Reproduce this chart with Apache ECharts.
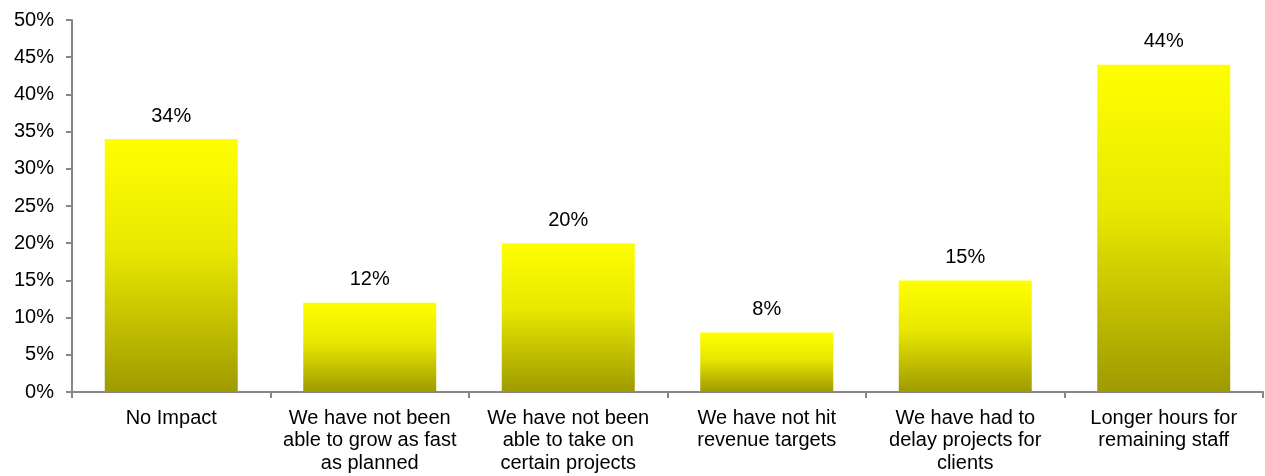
<!DOCTYPE html>
<html>
<head>
<meta charset="utf-8">
<script src="https://cdn.jsdelivr.net/npm/echarts@6/dist/echarts.min.js"></script>
<style>
  html, body { margin: 0; padding: 0; background: #fff; }
  #chart { width: 1265px; height: 476px; }
</style>
</head>
<body>
<div id="chart"></div>
<script>
// Survey responses: impact of staffing shortfall (share of respondents, %)
const categories = [
  'No Impact',
  'We have not been\nable to grow as fast\nas planned',
  'We have not been\nable to take on\ncertain projects',
  'We have not hit\nrevenue targets',
  'We have had to\ndelay projects for\nclients',
  'Longer hours for\nremaining staff'
];
const shares = [34, 12, 20, 8, 15, 44];
const yTicks = { min: 0, max: 50, step: 5 };

const fontFamily = '"Liberation Sans", Arial, sans-serif';
const axisGrey = '#878787';

const chart = echarts.init(document.getElementById('chart'));
chart.setOption({
  animation: false,
  grid: { left: 72, right: 2, top: 20, bottom: 84, containLabel: false },
  xAxis: {
    type: 'category',
    data: categories,
    axisLine: { lineStyle: { color: axisGrey, width: 2 } },
    axisTick: { show: true, length: 6, lineStyle: { color: axisGrey, width: 2 } },
    axisLabel: {
      interval: 0,
      margin: 15,
      color: '#000',
      fontFamily: fontFamily,
      fontSize: 20,
      lineHeight: 22.5,
      align: 'center'
    }
  },
  yAxis: {
    type: 'value',
    min: yTicks.min,
    max: yTicks.max,
    interval: yTicks.step,
    splitLine: { show: false },
    axisLine: { show: true, lineStyle: { color: axisGrey, width: 2 } },
    axisTick: { show: true, length: 6, lineStyle: { color: axisGrey, width: 2 } },
    axisLabel: {
      formatter: '{value}%',
      margin: 18,
      color: '#000',
      fontFamily: fontFamily,
      fontSize: 20
    }
  },
  series: [{
    type: 'bar',
    data: shares,
    barCategoryGap: '33%',
    itemStyle: {
      color: new echarts.graphic.LinearGradient(0, 0, 0, 1, [
        { offset: 0, color: '#ffff00' },
        { offset: 0.45, color: '#e8e700' },
        { offset: 1, color: '#9e9a00' }
      ])
    },
    label: {
      show: true,
      position: 'top',
      distance: 13,
      formatter: '{c}%',
      color: '#000',
      fontFamily: fontFamily,
      fontSize: 20
    }
  }]
});
</script>
</body>
</html>
